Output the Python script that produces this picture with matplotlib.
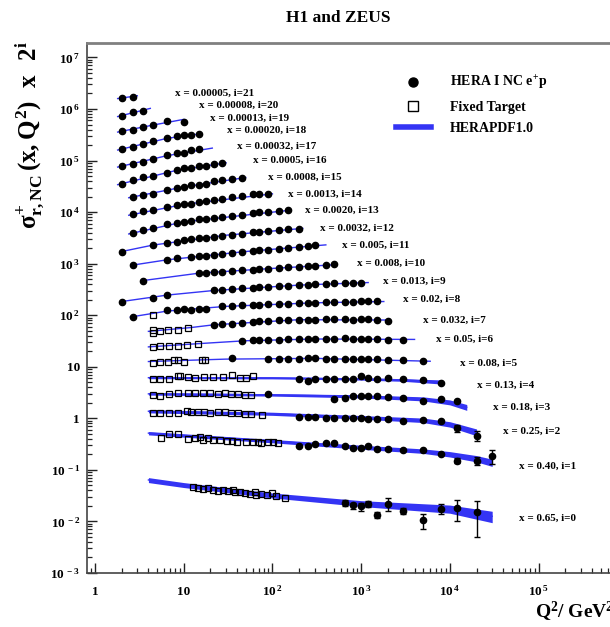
import numpy as np
import matplotlib
matplotlib.use('Agg')
import matplotlib.pyplot as plt
from matplotlib.lines import Line2D
from matplotlib.ticker import FixedLocator, LogLocator, FuncFormatter, NullFormatter

plt.rcParams['font.family'] = 'Liberation Serif'
plt.rcParams['font.weight'] = 'bold'
plt.rcParams['mathtext.fontset'] = 'custom'
for k in ('rm', 'it', 'bf', 'sf'):
    plt.rcParams['mathtext.' + k] = 'Liberation Serif:bold'

# x value of each bin, index = i
x_bins = ['0.65', '0.40', '0.25', '0.18', '0.13', '0.08', '0.05', '0.032', '0.02', '0.013',
          '0.008', '0.005', '0.0032', '0.0020', '0.0013', '0.0008', '0.0005', '0.00032',
          '0.00020', '0.00013', '0.00008', '0.00005']

# HERA I NC e+p points (Q2, sigma_r), index = i
hera_q2 = [
    [650, 800, 1000, 1200, 1500, 2000, 3000, 5000, 8000, 12000, 20000],
    [200, 250, 300, 400, 500, 650, 800, 1000, 1200, 1500, 2000, 3000, 5000, 8000, 12000, 20000, 30000],
    [200, 250, 300, 400, 500, 650, 800, 1000, 1200, 1500, 2000, 3000, 5000, 8000, 12000, 20000],
    [90, 500, 650, 800, 1000, 1200, 1500, 2000, 3000, 5000, 8000, 12000],
    [200, 250, 300, 400, 500, 650, 800, 1000, 1200, 1500, 2000, 3000, 5000, 8000],
    [35, 90, 120, 150, 200, 250, 300, 400, 500, 650, 800, 1000, 1200, 1500, 2000, 3000, 5000],
    [45, 60, 70, 90, 120, 150, 200, 250, 300, 400, 500, 650, 800, 1000, 1200, 1500, 2000, 3000],
    [22, 27, 35, 45, 60, 70, 90, 120, 150, 200, 250, 300, 400, 500, 650, 800, 1000, 1200, 1500, 2000],
    [2.7, 6.5, 8.5, 10, 12, 15, 18, 27, 35, 45, 60, 70, 90, 120, 150, 200, 250, 300, 400, 500,
     650, 800, 1000, 1200, 1500],
    [2, 4.5, 6.5, 22, 27, 35, 45, 60, 70, 90, 120, 150, 200, 250, 300, 400, 500, 650, 800, 1000],
    [3.5, 15, 18, 22, 27, 35, 45, 60, 70, 90, 120, 150, 200, 250, 300, 400, 500],
    [2.7, 6.5, 8.5, 12, 15, 18, 22, 27, 35, 45, 60, 70, 90, 120, 150, 200, 250, 300],
    [2, 4.5, 6.5, 8.5, 10, 12, 15, 18, 22, 27, 35, 45, 60, 70, 90, 120, 150, 200],
    [2.7, 3.5, 4.5, 6.5, 8.5, 10, 12, 15, 18, 22, 27, 35, 45, 60, 70, 90, 120, 150],
    [2.7, 3.5, 4.5, 6.5, 8.5, 10, 12, 15, 18, 22, 27, 35, 45, 60, 70, 90],
    [2.7, 3.5, 4.5, 6.5, 8.5, 10, 12, 15, 18, 22, 27, 35, 45],
    [2, 2.7, 3.5, 4.5, 6.5, 8.5, 10, 12, 15, 18, 22, 27],
    [2, 2.7, 3.5, 4.5, 6.5, 8.5, 10, 12, 15],
    [2, 2.7, 3.5, 4.5, 6.5, 8.5, 10, 12, 15],
    [2, 2.7, 3.5, 4.5, 6.5, 10],
    [2, 2.7, 3.5],
    [2, 2.7],
]
hera_sig = [
    [0.0230, 0.0204, 0.0198, 0.0220, 0.0135, 0.0220, 0.0163, 0.0105, 0.0176, 0.0182, 0.0152],
    [0.143, 0.143, 0.158, 0.165, 0.165, 0.147, 0.131, 0.131, 0.143, 0.127, 0.127, 0.121, 0.123,
     0.101, 0.0753, 0.0753, 0.094],
    [0.271, 0.271, 0.271, 0.259, 0.259, 0.259, 0.259, 0.259, 0.248, 0.248, 0.240, 0.223, 0.233,
     0.223, 0.159, 0.114],
    [0.365, 0.300, 0.315, 0.338, 0.338, 0.338, 0.338, 0.324, 0.315, 0.271, 0.301, 0.271],
    [0.356, 0.330, 0.356, 0.356, 0.356, 0.356, 0.366, 0.412, 0.384, 0.356, 0.372, 0.356, 0.344, 0.307],
    [0.466, 0.446, 0.446, 0.446, 0.446, 0.466, 0.458, 0.452, 0.452, 0.446, 0.446, 0.438, 0.446,
     0.438, 0.432, 0.419, 0.401],
    [0.487, 0.510, 0.510, 0.526, 0.526, 0.533, 0.543, 0.543, 0.543, 0.550, 0.550, 0.557, 0.543,
     0.550, 0.543, 0.543, 0.510, 0.526],
    [0.513, 0.528, 0.528, 0.552, 0.567, 0.593, 0.611, 0.620, 0.620, 0.640, 0.640, 0.640, 0.660,
     0.660, 0.660, 0.640, 0.660, 0.660, 0.640, 0.611],
    [0.360, 0.484, 0.499, 0.521, 0.499, 0.515, 0.515, 0.578, 0.589, 0.610, 0.624, 0.624, 0.637,
     0.643, 0.651, 0.667, 0.672, 0.681, 0.690, 0.703, 0.712, 0.712, 0.721, 0.721, 0.721],
    [0.360, 0.419, 0.486, 0.598, 0.615, 0.634, 0.654, 0.672, 0.684, 0.703, 0.715, 0.735, 0.748,
     0.768, 0.782, 0.802, 0.817, 0.828, 0.839, 0.839],
    [0.459, 0.637, 0.654, 0.667, 0.684, 0.706, 0.728, 0.748, 0.762, 0.782, 0.806, 0.824, 0.843,
     0.869, 0.893, 0.933, 0.950],
    [0.461, 0.575, 0.621, 0.643, 0.673, 0.703, 0.728, 0.751, 0.785, 0.822, 0.859, 0.879, 0.918,
     0.959, 0.981, 1.03, 1.07, 1.11],
    [0.416, 0.561, 0.621, 0.649, 0.700, 0.732, 0.766, 0.783, 0.818, 0.855, 0.894, 0.935, 1.00,
     1.02, 1.07, 1.12, 1.14, 1.17],
    [0.485, 0.547, 0.589, 0.703, 0.757, 0.791, 0.828, 0.879, 0.903, 0.946, 0.988, 1.02, 1.06,
     1.18, 1.20, 1.23, 1.29, 1.33],
    [0.556, 0.645, 0.685, 0.771, 0.830, 0.869, 0.893, 0.964, 1.01, 1.04, 1.12, 1.20, 1.26, 1.35,
     1.40, 1.35],
    [0.601, 0.647, 0.697, 0.809, 0.910, 0.936, 1.01, 1.04, 1.09, 1.22, 1.26, 1.34, 1.42],
    [0.543, 0.631, 0.731, 0.752, 0.872, 1.01, 1.09, 1.09, 1.17, 1.21, 1.28, 1.36],
    [0.595, 0.661, 0.711, 0.826, 0.957, 1.06, 1.09, 1.20, 1.25],
    [0.634, 0.714, 0.804, 0.904, 1.05, 1.16, 1.18, 1.22, 1.25],
    [0.706, 0.748, 0.868, 0.948, 1.10, 1.07],
    [0.708, 0.82, 0.88],
    [0.776, 0.80],
]
# visible error bars (only the high-x bins)
hera_err = {
    0: [0.0030, 0.0027, 0.0035, 0.0029, 0.0018, 0.0059, 0.0022, 0.0033, 0.0039, 0.0081, 0.0101],
    1: [0.0, 0.0, 0.0, 0.0, 0.0, 0.0, 0.0, 0.0, 0.0, 0.0, 0.0, 0.0, 0.0, 0.0, 0.0087, 0.014, 0.030],
    2: [0.0, 0.0, 0.0, 0.0, 0.0, 0.0, 0.0, 0.0, 0.0, 0.0, 0.0, 0.0, 0.0, 0.0, 0.023, 0.025],
}

# fixed target points
ft_q2 = [
    [12.8, 14.6, 16.6, 19, 21.6, 24.6, 28, 31.8, 36.3, 38, 43, 49, 56, 63, 66, 75, 86, 98, 111, 139],
    [5.6, 6.9, 8.7, 11.3, 13.4, 15.2, 16.6, 19, 21.6, 25.7, 30.5, 34.7, 39.4, 51, 61, 69, 75, 90,
     102, 116],
    [4.5, 5.4, 6.9, 8.7, 11, 12, 14.6, 17, 20, 24.5, 29, 34.5, 41, 49, 58, 76],
    [4.5, 5.4, 6.9, 8.7, 11.3, 13.4, 16.5, 20, 24.5, 29, 34.5, 41, 49, 58],
    [4.5, 5.4, 6.9, 8.7, 9.1, 11.3, 13.4, 16.9, 21.6, 28, 34.7, 43, 51, 61],
    [4.5, 5.4, 6.7, 7.7, 8.7, 10, 16, 17.5],
    [4.5, 5.4, 6.9, 8.7, 11, 14.6],
    [4.5, 4.5, 5.4, 6.7, 8.7, 11.3],
    [4.5],
] + [[]] * 13
ft_sig = [
    [0.0461, 0.0441, 0.0428, 0.0441, 0.0415, 0.0397, 0.0415, 0.0397, 0.0415, 0.0370, 0.0380,
     0.0358, 0.0343, 0.0370, 0.0328, 0.0343, 0.0328, 0.0358, 0.0309, 0.0283],
    [0.204, 0.247, 0.247, 0.198, 0.204, 0.213, 0.191, 0.204, 0.191, 0.191, 0.183, 0.183, 0.175,
     0.175, 0.171, 0.175, 0.163, 0.175, 0.171, 0.163],
    [0.313, 0.313, 0.323, 0.323, 0.348, 0.332, 0.332, 0.332, 0.323, 0.332, 0.332, 0.313, 0.313,
     0.300, 0.300, 0.287],
    [0.354, 0.338, 0.365, 0.394, 0.382, 0.382, 0.382, 0.382, 0.365, 0.382, 0.365, 0.365, 0.354, 0.354],
    [0.366, 0.366, 0.366, 0.412, 0.412, 0.401, 0.384, 0.401, 0.401, 0.401, 0.425, 0.384, 0.384, 0.412],
    [0.373, 0.383, 0.383, 0.419, 0.419, 0.383, 0.419, 0.419],
    [0.380, 0.403, 0.391, 0.403, 0.421, 0.441],
    [0.410, 0.359, 0.380, 0.410, 0.410, 0.442],
    [0.400],
] + [[]] * 13

# HERAPDF1.0 prediction (Q2 knots, sigma_r, relative half width of band)
th_q2 = [
    [4, 10, 30, 100, 1000, 10000, 30000],
    [4, 100, 1000, 5000, 10000, 20000, 30000],
    [4, 100, 1000, 5000, 10000, 20000],
    [4, 100, 1000, 5000, 10000, 15500],
    [4, 100, 1000, 3000, 8000],
    [4, 30, 300, 6000],
    [4, 15, 50, 300, 4000],
    [4, 12, 22, 200, 2000],
    [2.5, 6.5, 30, 300, 1800],
    [2, 6.5, 22, 200, 1200],
    [3.5, 15, 100, 500],
    [2.7, 6.5, 50, 400],
    [2, 4.5, 30, 220],
    [2.4, 10, 160],
    [2.4, 10, 100],
    [2.4, 10, 50],
    [1.8, 8, 30],
    [1.8, 6.5, 21],
    [1.8, 6.5, 16],
    [1.8, 4.5, 10],
    [1.8, 4.2],
    [1.8, 3.0],
]
th_sig = [
    [0.0638, 0.0511, 0.0409, 0.0321, 0.0224, 0.0176, 0.0126],
    [0.258, 0.181, 0.138, 0.116, 0.101, 0.083, 0.0695],
    [0.343, 0.307, 0.262, 0.230, 0.192, 0.135],
    [0.373, 0.357, 0.334, 0.299, 0.256, 0.205],
    [0.384, 0.381, 0.363, 0.347, 0.318],
    [0.395, 0.44, 0.455, 0.40],
    [0.38, 0.44, 0.50, 0.54, 0.53],
    [0.38, 0.45, 0.51, 0.64, 0.63],
    [0.36, 0.47, 0.58, 0.68, 0.72],
    [0.36, 0.48, 0.59, 0.75, 0.84],
    [0.46, 0.64, 0.79, 0.93],
    [0.46, 0.58, 0.84, 1.13],
    [0.42, 0.56, 0.87, 1.18],
    [0.46, 0.79, 1.33],
    [0.53, 0.86, 1.38],
    [0.58, 0.94, 1.43],
    [0.52, 0.97, 1.38],
    [0.57, 0.95, 1.33],
    [0.61, 1.03, 1.27],
    [0.68, 0.93, 1.20],
    [0.68, 0.98],
    [0.76, 0.86],
]
th_unc = {
    0: [0.11, 0.11, 0.11, 0.11, 0.13, 0.18, 0.25],
    1: [0.075, 0.075, 0.09, 0.10, 0.12, 0.14, 0.16],
    2: [0.07, 0.07, 0.08, 0.10, 0.12, 0.15],
    3: [0.055, 0.055, 0.07, 0.09, 0.11, 0.13],
    4: [0.045, 0.045, 0.05, 0.06, 0.09],
}

BLUE = '#3434f4'
W, H = 610, 627

fig = plt.figure(figsize=(W / 100, H / 100), dpi=100)
ax = fig.add_axes([86.7 / W, 1 - 573 / H, (634 - 86.7) / W, (573 - 43.3) / H])
ax.set_xscale('log')
ax.set_yscale('log')
ax.set_xlim(0.806, 1.19e6)
ax.set_ylim(1e-3, 1.88e7)

for i in range(len(x_bins)):
    scale = 2.0 ** i
    tq = np.array(th_q2[i])
    ts = np.array(th_sig[i]) * scale
    if i in th_unc:
        tu = np.array(th_unc[i])
        ax.fill_between(tq, ts * (1 - tu), ts * (1 + tu), color=BLUE, lw=0, zorder=2)
    ax.plot(tq, ts, color=BLUE, lw=1.0, zorder=2)

    if ft_q2[i]:
        ax.plot(ft_q2[i], np.array(ft_sig[i]) * scale, 's', mfc='none', mec='k',
                ms=5.0, mew=0.9, zorder=3)

    hq = np.array(hera_q2[i])
    hs = np.array(hera_sig[i]) * scale
    if i in hera_err:
        ax.errorbar(hq, hs, yerr=np.array(hera_err[i]) * scale, fmt='o', color='k',
                    ms=4.5, elinewidth=1.0, capsize=2.2, capthick=1.0, zorder=4)
    else:
        ax.plot(hq, hs, 'o', color='k', ms=4.5, zorder=4)

# axes styling (ROOT-like: ticks inside, no ticks on top/right)
for s in ('left', 'bottom'):
    ax.spines[s].set_color('#444444')
    ax.spines[s].set_linewidth(1.2)
ax.spines['top'].set_color('#808080')
ax.spines['top'].set_linewidth(2.0)
ax.spines['right'].set_visible(False)


def dec_label(v, pos):
    e = int(round(np.log10(v)))
    if e == 0:
        return '1'
    if e == 1:
        return '10'
    return r'$10^{\,%d}$' % e


ax.xaxis.set_major_locator(FixedLocator([10.0 ** e for e in range(0, 6)]))
ax.yaxis.set_major_locator(FixedLocator([10.0 ** e for e in range(-3, 8)]))
ax.xaxis.set_minor_locator(LogLocator(base=10, subs=np.arange(2, 10), numticks=30))
ax.yaxis.set_minor_locator(LogLocator(base=10, subs=np.arange(2, 10), numticks=30))
ax.xaxis.set_major_formatter(FuncFormatter(dec_label))
ax.yaxis.set_major_formatter(FuncFormatter(dec_label))
ax.xaxis.set_minor_formatter(NullFormatter())
ax.yaxis.set_minor_formatter(NullFormatter())
ax.tick_params(which='both', direction='in', top=False, right=False, color='#222222')
ax.tick_params(which='major', length=7, width=1.0, labelsize=9.5)
ax.tick_params(which='minor', length=3.5, width=0.9)
ax.tick_params(axis='y', which='major', pad=5)
ax.tick_params(axis='x', which='major', pad=16)
for t in ax.xaxis.get_major_ticks():
    t.label1.set_va('baseline')

# bin labels
label_px = [(519, 518), (519, 466), (503, 431), (493, 407), (477, 385), (460, 363), (436, 339),
            (423, 320), (403, 299), (383, 281), (357, 263), (342, 245), (320, 228), (305, 210),
            (288, 194), (268, 177), (253, 160), (237, 146), (227, 130), (210, 118), (199, 105),
            (175, 93)]
for i, (px, py) in enumerate(label_px):
    fig.text(px / W, 1 - py / H, 'x = %s, i=%d' % (x_bins[i], i), fontsize=8.0,
             ha='left', va='center')

# legend
handles = [
    Line2D([], [], ls='none', marker='o', color='k', ms=6.5),
    Line2D([], [], ls='none', marker='s', mfc='none', mec='k', ms=7, mew=1.0),
    Line2D([], [], color=BLUE, lw=4),
]
fig.legend(handles, ['HERA I NC e$^{+}$p', 'Fixed Target', 'HERAPDF1.0'],
           loc='upper left', bbox_to_anchor=(396 / W, 1 - 74 / H), frameon=False,
           fontsize=10.0, handlelength=2.5, handletextpad=1.4, labelspacing=0.6,
           borderpad=0, borderaxespad=0)

fig.text(338 / W, 1 - 18 / H, 'H1 and ZEUS', ha='center', va='center', fontsize=12.5)
fig.text(30 / W, 1 - 41 / H, r'$\sigma^{+}_{r,NC}\,(x,Q^{2})\ \ x\ \ 2^{i}$', rotation=90,
         ha='center', va='top', fontsize=18)
fig.text(535 / W, 1 - 612 / H, r'Q$^{2}$/ GeV$^{2}$', ha='left', va='center', fontsize=14)

fig.savefig('out.png', dpi=100)
